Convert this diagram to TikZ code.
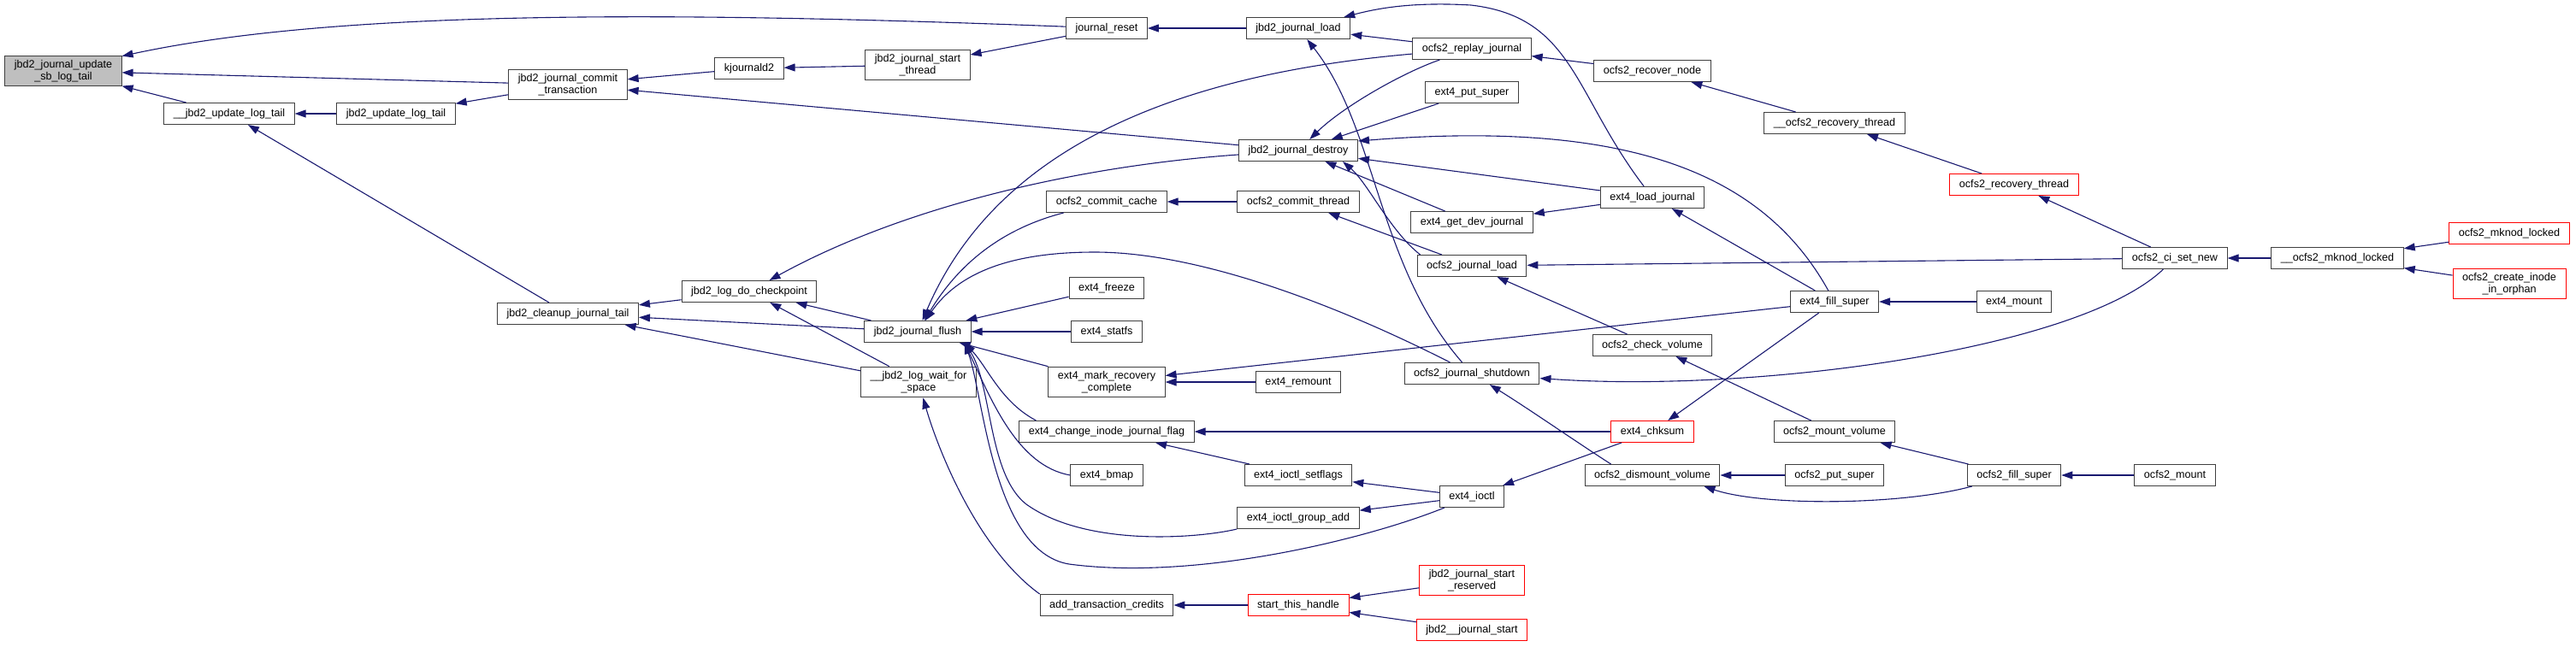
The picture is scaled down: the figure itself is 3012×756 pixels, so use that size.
\documentclass[tikz,border=0pt]{standalone}
\usepackage{fontspec}
\setsansfont{Liberation Sans}
\usetikzlibrary{arrows.meta}
\definecolor{callblue}{HTML}{191970}
\tikzset{
  fn/.style={draw=black!75, line width=1pt, fill=white,
    font=\sffamily\fontsize{12.6}{14}\selectfont,
    inner xsep=11pt, inner ysep=5pt, minimum height=25pt, align=center},
  cut/.style={fn, draw=red},
  root/.style={fn, fill=black!25},
  call/.style={->, draw=callblue, line width=1.1pt}
}
\begin{document}
\begin{tikzpicture}[>={Triangle[length=13pt,width=9pt]}, x=1pt, y=1pt]
    \useasboundingbox (0,0) rectangle (3012,-756);

    % jbd2 core
    \node[root] (sb) at (74,-83) {jbd2\_journal\_update\\\_sb\_log\_tail};
    \node[fn] (upd) at (268,-133) {\_\_jbd2\_update\_log\_tail};
    \node[fn] (updlt) at (463,-133) {jbd2\_update\_log\_tail};
    \node[fn] (commit) at (664,-99) {jbd2\_journal\_commit\\\_transaction};
    \node[fn] (cleanup) at (664,-367) {jbd2\_cleanup\_journal\_tail};
    \node[fn] (kjd) at (876,-80) {kjournald2};
    \node[fn] (ckpt) at (876,-341) {jbd2\_log\_do\_checkpoint};
    \node[fn] (startthr) at (1073,-76) {jbd2\_journal\_start\\\_thread};
    \node[fn] (flush) at (1073,-388) {jbd2\_journal\_flush};
    \node[fn] (waitsp) at (1074,-447) {\_\_jbd2\_log\_wait\_for\\\_space};

    % third rank
    \node[fn] (jreset) at (1294,-33) {journal\_reset};
    \node[fn] (occache) at (1294,-236) {ocfs2\_commit\_cache};
    \node[fn] (efreeze) at (1294,-337) {ext4\_freeze};
    \node[fn] (estatfs) at (1294,-388) {ext4\_statfs};
    \node[fn] (emark) at (1294,-447) {ext4\_mark\_recovery\\\_complete};
    \node[fn] (echange) at (1294,-505) {ext4\_change\_inode\_journal\_flag};
    \node[fn] (ebmap) at (1294,-556) {ext4\_bmap};
    \node[fn] (addtc) at (1294,-708) {add\_transaction\_credits};

    \node[fn] (jload) at (1518,-33) {jbd2\_journal\_load};
    \node[fn] (destroy) at (1518,-176) {jbd2\_journal\_destroy};
    \node[fn] (ocomthr) at (1518,-236) {ocfs2\_commit\_thread};
    \node[fn] (eremount) at (1518,-447) {ext4\_remount};
    \node[fn] (esetfl) at (1518,-556) {ext4\_ioctl\_setflags};
    \node[fn] (egrpadd) at (1518,-606) {ext4\_ioctl\_group\_add};
    \node[cut] (sth) at (1518,-708) {start\_this\_handle};

    \node[fn] (replay) at (1721,-57) {ocfs2\_replay\_journal};
    \node[fn] (eputsb) at (1721,-108) {ext4\_put\_super};
    \node[fn] (egetdev) at (1721,-260) {ext4\_get\_dev\_journal};
    \node[fn] (ojload) at (1721,-311) {ocfs2\_journal\_load};
    \node[fn] (shutdown) at (1721,-437) {ocfs2\_journal\_shutdown};
    \node[fn] (eioctl) at (1721,-581) {ext4\_ioctl};
    \node[cut] (jsres) at (1721,-679) {jbd2\_journal\_start\\\_reserved};
    \node[cut] (jstart) at (1721,-737) {jbd2\_\_journal\_start};

    % ocfs2 / ext4 callers
    \node[fn] (orecnode) at (1932,-83) {ocfs2\_recover\_node};
    \node[fn] (eload) at (1932,-231) {ext4\_load\_journal};
    \node[fn] (ocheck) at (1932,-404) {ocfs2\_check\_volume};
    \node[cut] (echksum) at (1932,-505) {ext4\_chksum};
    \node[fn] (odismount) at (1932,-556) {ocfs2\_dismount\_volume};

    \node[fn] (orecthrin) at (2145,-144) {\_\_ocfs2\_recovery\_thread};
    \node[fn] (efill) at (2145,-353) {ext4\_fill\_super};
    \node[fn] (omountvol) at (2145,-505) {ocfs2\_mount\_volume};
    \node[fn] (oputsb) at (2145,-556) {ocfs2\_put\_super};

    \node[cut] (orecthr) at (2355,-216) {ocfs2\_recovery\_thread};
    \node[fn] (emount) at (2355,-353) {ext4\_mount};
    \node[fn] (ofill) at (2355,-556) {ocfs2\_fill\_super};

    \node[fn] (ocinew) at (2543,-302) {ocfs2\_ci\_set\_new};
    \node[fn] (omount) at (2543,-556) {ocfs2\_mount};
    \node[fn] (mknodin) at (2733,-302) {\_\_ocfs2\_mknod\_locked};
    \node[cut] (mknod) at (2934,-273) {ocfs2\_mknod\_locked};
    \node[cut] (orphan) at (2934,-332) {ocfs2\_create\_inode\\\_in\_orphan};

    % calls into the root
    \draw[call] (jreset) .. controls (800,-14) and (400,-10) .. ([yshift=-1pt]sb.north east);
    \draw[call] (commit) -- (sb);
    \draw[call] (upd) -- (sb);
    \draw[call] (updlt) -- (upd);
    \draw[call] (cleanup) -- (upd);
    \draw[call] (commit) -- (updlt);
    \draw[call] (kjd) -- (commit);
    \draw[call] (destroy) -- (commit);
    \draw[call] (startthr) -- (kjd);
    \draw[call] (jreset) -- (startthr);
    \draw[call] (jload) -- (jreset);

    % load / destroy
    \draw[call] (replay) -- (jload);
    \draw[call] (eload) .. controls (1840,-110) and (1840,-20) .. (1720,-6)
        .. controls (1650,-2) and (1610,-10) .. ([xshift=-8pt]jload.north east);
    \draw[call] (shutdown) .. controls (1610,-310) and (1610,-150) .. (jload);
    \draw[call] (orecnode) -- (replay);
    \draw[call] (replay) .. controls (1640,-85) and (1570,-125) .. (destroy);
    \draw[call] (eputsb) -- (destroy);
    \draw[call] (efill) .. controls (2060,-200) and (1900,-140) .. ([yshift=-2pt]destroy.north east);
    \draw[call] (eload) -- (destroy);
    \draw[call] (egetdev) -- (destroy);
    \draw[call] ([xshift=4pt]ojload.north west) .. controls (1625,-270) and (1600,-215) .. ([xshift=-18pt]destroy.south east);
    \draw[call] (ocomthr) -- (occache);
    \draw[call] (ojload) -- (ocomthr);

    % flush and checkpoint
    \draw[call] (occache) .. controls (1170,-268) and (1120,-310) .. (flush);
    \draw[call] (replay) .. controls (1400,-85) and (1170,-160) .. (flush);
    \draw[call] (destroy) .. controls (1250,-195) and (1050,-245) .. (ckpt);
    \draw[call] (shutdown) .. controls (1560,-355) and (1400,-295) .. (1280,-295)
        .. controls (1180,-295) and (1120,-320) .. (flush);
    \draw[call] (efreeze) -- (flush);
    \draw[call] (estatfs) -- (flush);
    \draw[call] (emark) -- (flush);
    \coordinate (fan) at ([xshift=-8pt]flush.south east);
    \draw[call] ([xshift=20pt]echange.north west) .. controls (1170,-470) and (1155,-430) .. (fan);
    \draw[call] (ebmap.west) .. controls (1190,-545) and (1160,-470) .. (fan);
    \draw[call] (egrpadd.south west) .. controls (1400,-630) and (1270,-640) .. (1200,-590)
        .. controls (1155,-555) and (1160,-450) .. (fan);
    \draw[call] (eioctl) .. controls (1600,-630) and (1400,-680) .. (1250,-660)
        .. controls (1160,-645) and (1150,-460) .. (fan);
    \draw[call] (flush) -- (ckpt);
    \draw[call] (flush) -- (cleanup);
    \draw[call] (waitsp) -- (ckpt);
    \draw[call] (waitsp) -- (cleanup);
    \draw[call] (ckpt) -- (cleanup);
    \draw[call] (addtc.north west) .. controls (1140,-640) and (1095,-520) .. (waitsp);
    \draw[call] (sth) -- (addtc);
    \draw[call] (jsres) -- (sth);
    \draw[call] (jstart) -- (sth);

    % ext4 side
    \draw[call] (eremount) -- (emark);
    \draw[call] (efill) -- (emark);
    \draw[call] (esetfl) -- (echange);
    \draw[call] (echksum) -- (echange);
    \draw[call] (eioctl) -- (esetfl);
    \draw[call] (eioctl) -- (egrpadd);
    \draw[call] (echksum) -- (eioctl);
    \draw[call] (efill) -- (echksum);
    \draw[call] (efill) -- (eload);
    \draw[call] (emount) -- (efill);
    \draw[call] (eload) -- (egetdev);

    % ocfs2 side
    \draw[call] (ocinew) -- (ojload);
    \draw[call] (ocheck) -- (ojload);
    \draw[call] (ocinew) .. controls (2430,-410) and (2050,-460) .. (shutdown);
    \draw[call] ([xshift=31pt]odismount.north west) .. controls (1840,-515) and (1790,-480) .. (shutdown);
    \draw[call] (omountvol) -- (ocheck);
    \draw[call] (oputsb) -- (odismount);
    \draw[call] (ofill) -- (omountvol);
    \draw[call] ([xshift=6pt]ofill.south west) .. controls (2220,-592) and (2060,-592) .. ([xshift=-19pt]odismount.south east);
    \draw[call] (omount) -- (ofill);
    \draw[call] (mknodin) -- (ocinew);
    \draw[call] (mknod) -- (mknodin);
    \draw[call] (orphan) -- (mknodin);
    \draw[call] (ocinew) -- (orecthr);
    \draw[call] (orecthr) -- (orecthrin);
    \draw[call] (orecthrin) -- (orecnode);
\end{tikzpicture}
\end{document}
